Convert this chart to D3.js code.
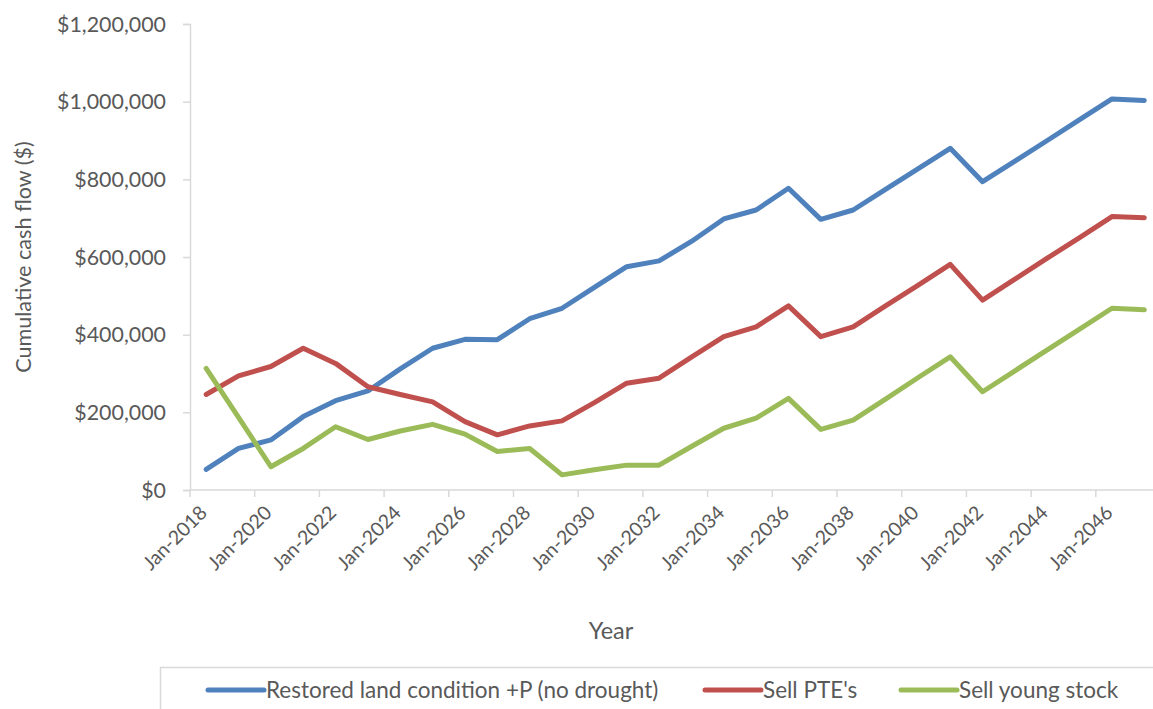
<!DOCTYPE html>
<html>
<head>
<meta charset="utf-8">
<script src="https://cdn.jsdelivr.net/npm/d3@7"></script>
<style>
  html, body { margin: 0; padding: 0; background: #fff; overflow: hidden; }
  svg { display: block; }
  text { font-family: Lato, "Liberation Sans", Arial, sans-serif; fill: #595959; }
</style>
</head>
<body>
<svg id="chart" width="1153" height="709"></svg>
<script>
// ---- Data (values in $) ----
const categories = ["Jan-2018","Jan-2019","Jan-2020","Jan-2021","Jan-2022","Jan-2023","Jan-2024","Jan-2025","Jan-2026","Jan-2027",
  "Jan-2028","Jan-2029","Jan-2030","Jan-2031","Jan-2032","Jan-2033","Jan-2034","Jan-2035","Jan-2036","Jan-2037",
  "Jan-2038","Jan-2039","Jan-2040","Jan-2041","Jan-2042","Jan-2043","Jan-2044","Jan-2045","Jan-2046","Jan-2047"];
const restored = [53000,107000,129000,189000,230000,255000,312000,365000,388000,387000,441000,468000,522000,575000,590000,
  640000,698000,721000,777000,697000,721000,774000,827000,880000,794000,847000,900000,954000,1007000,1003000];
const sellPTE = [246000,294000,318000,365000,326000,266000,246000,227000,176000,142000,165000,178000,225000,275000,288000,
  342000,395000,420000,474000,395000,420000,474000,527000,581000,489000,543000,597000,650000,704000,701000];
const sellYoung = [313000,187000,60000,107000,163000,130000,152000,169000,144000,99000,107000,39000,52000,64000,64000,
  112000,159000,185000,236000,156000,180000,234000,289000,343000,253000,307000,361000,414000,468000,464000];
const seriesNames = ["Restored land condition +P (no drought)", "Sell PTE's", "Sell young stock"];
const seriesColors = ["#4F81BD", "#C0504D", "#9BBB59"];
const yTicks = [0, 200000, 400000, 600000, 800000, 1000000, 1200000];
const xLabelCats = categories.filter((d, i) => i % 2 === 0);

// ---- Layout ----
const svg = d3.select("#chart");
const x0 = 190, bandW = 32.35, y0 = 490, yTop = 24;
const x = d3.scaleBand().domain(categories).range([x0, x0 + bandW * categories.length]).paddingInner(0).paddingOuter(0);
const y = d3.scaleLinear().domain([0, 1200000]).range([y0, yTop]);
const axisColor = "#d9d9d9";
const FONT = 'Lato, "Liberation Sans", Arial, sans-serif';

// Y axis
const fmt = v => "$" + d3.format(",")(v);
const yAxis = d3.axisLeft(y).tickValues(yTicks).tickFormat(fmt).tickSize(7).tickPadding(17);
const gy = svg.append("g").attr("transform", `translate(${x0},0)`).call(yAxis);
gy.attr("font-family", null).attr("font-size", null);
gy.select(".domain").attr("stroke", axisColor).attr("stroke-width", 1.5);
gy.selectAll(".tick line").attr("stroke", axisColor).attr("stroke-width", 1.5);
gy.selectAll(".tick text").style("font-size", "21.4px").style("fill", "#595959").style("font-family", FONT)
  .attr("dy", "0.34em");

// X axis line
svg.append("line").attr("x1", x0).attr("x2", x0 + bandW * categories.length)
  .attr("y1", y0).attr("y2", y0).attr("stroke", axisColor).attr("stroke-width", 1.5);
// X ticks (between categories, every 2)
svg.append("g").selectAll("line").data(xLabelCats).join("line")
  .attr("x1", d => x(d)).attr("x2", d => x(d))
  .attr("y1", y0).attr("y2", y0 + 7)
  .attr("stroke", axisColor).attr("stroke-width", 1.5);
// X labels at category centers
svg.append("g").selectAll("text").data(xLabelCats).join("text")
  .attr("transform", d => `translate(${x(d) + x.bandwidth() / 2 + 2},${y0 + 24}) rotate(-45)`)
  .attr("text-anchor", "end")
  .style("font-size", "19.5px")
  .text(d => d);

// Axis titles
svg.append("text").attr("transform", `translate(31,257) rotate(-90)`)
  .attr("text-anchor", "middle").style("font-size", "21.6px").text("Cumulative cash flow ($)");
svg.append("text").attr("x", 611).attr("y", 639).attr("text-anchor", "middle")
  .style("font-size", "23.5px").text("Year");

// Lines
const allSeries = [restored, sellPTE, sellYoung];
const line = d3.line().x((d, i) => x(categories[i]) + x.bandwidth() / 2).y(d => y(d));
svg.append("g").selectAll("path").data(allSeries).join("path")
  .attr("d", d => line(d))
  .attr("fill", "none")
  .attr("stroke", (d, i) => seriesColors[i])
  .attr("stroke-width", 5)
  .attr("stroke-linejoin", "round")
  .attr("stroke-linecap", "round");

// Legend
svg.append("rect").attr("x", 160.5).attr("y", 667.5).attr("width", 1100).attr("height", 60)
  .attr("fill", "none").attr("stroke", axisColor).attr("stroke-width", 1.5);
const legendX = [208, 705, 901];
const lg = svg.append("g").selectAll("g").data(seriesNames).join("g")
  .attr("transform", (d, i) => `translate(${legendX[i]},690)`);
lg.append("line").attr("x1", 0).attr("x2", 56).attr("y1", 0).attr("y2", 0)
  .attr("stroke", (d, i) => seriesColors[i]).attr("stroke-width", 5).attr("stroke-linecap", "round");
lg.append("text").attr("x", 58).attr("y", 8).style("font-size", "22.5px").text(d => d);
</script>
</body>
</html>
